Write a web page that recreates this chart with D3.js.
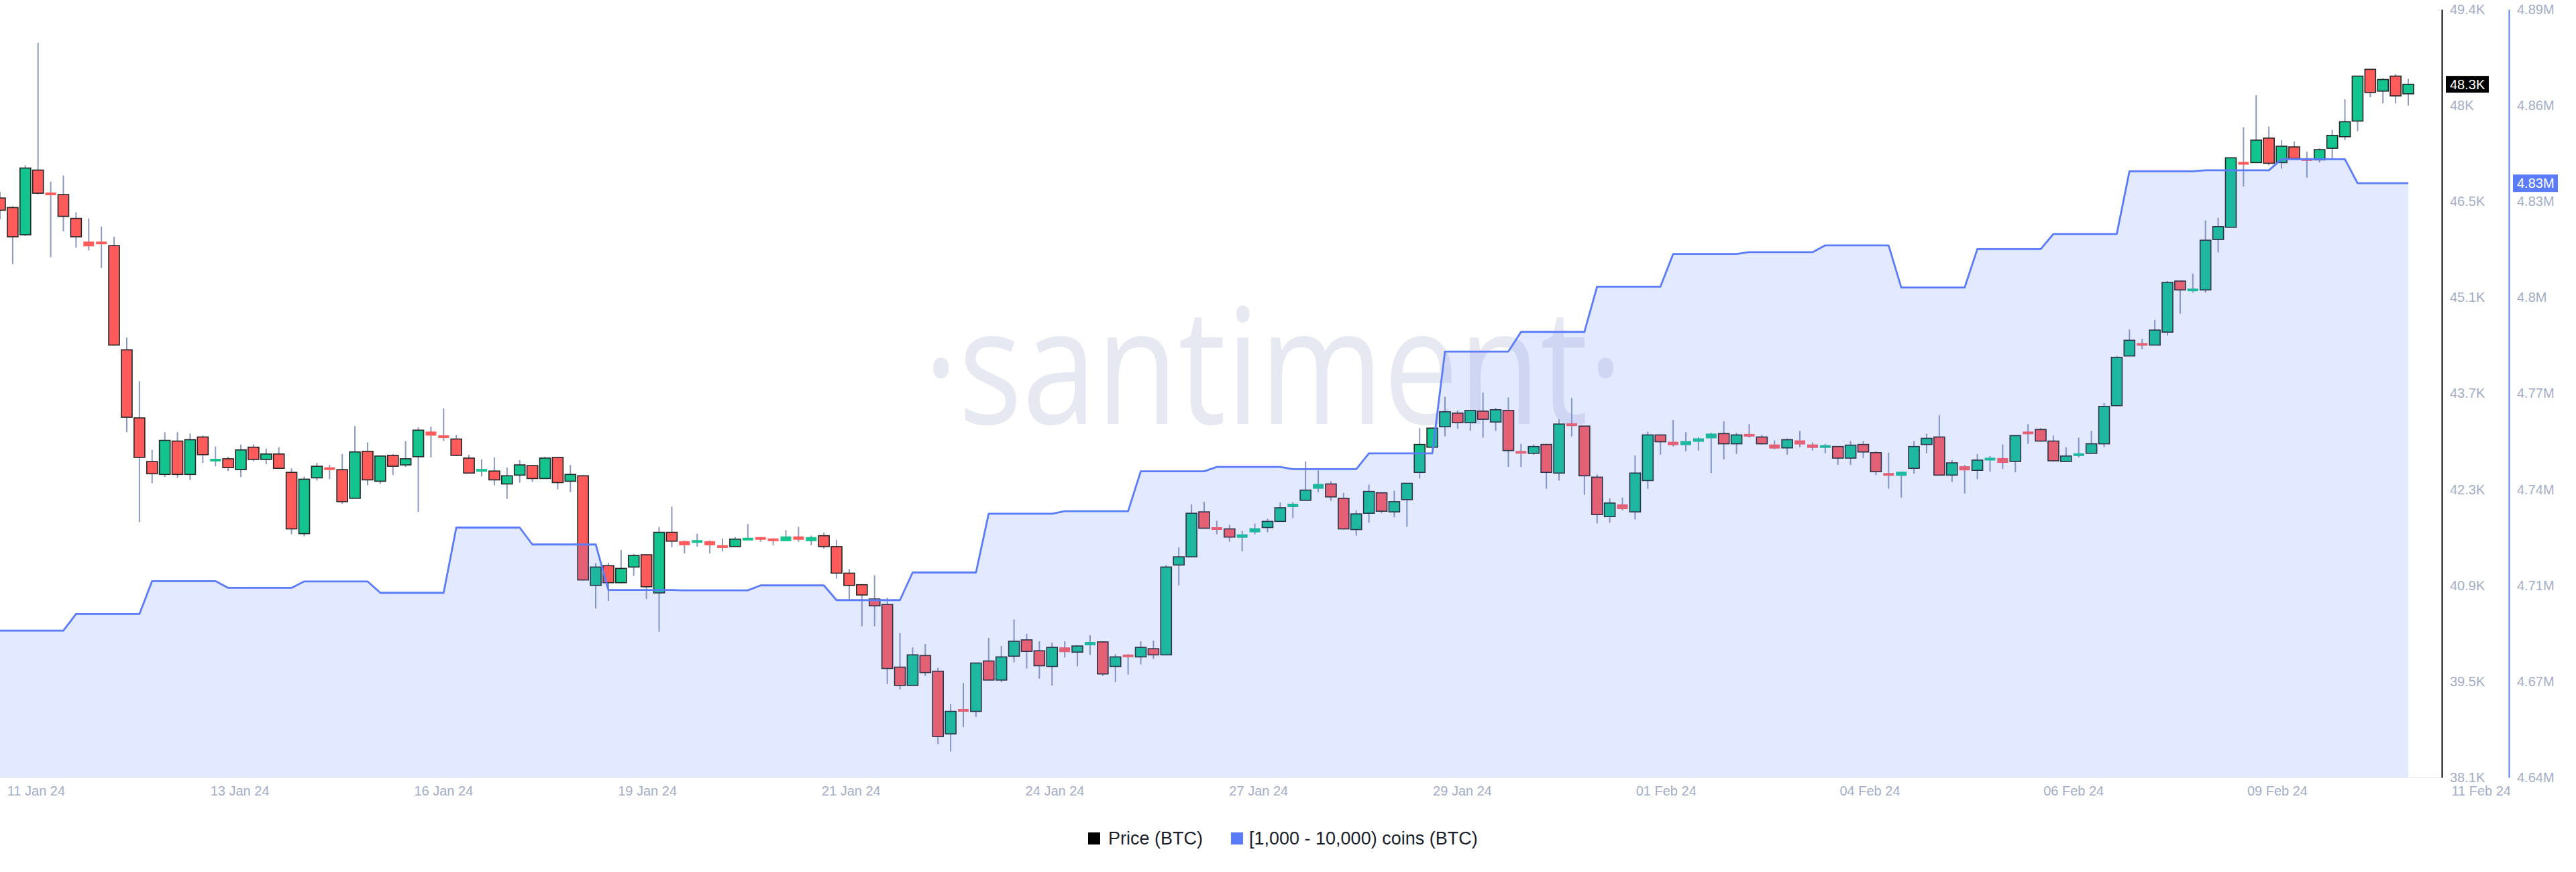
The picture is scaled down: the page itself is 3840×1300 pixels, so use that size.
<!DOCTYPE html>
<html><head><meta charset="utf-8">
<script src="https://cdn.jsdelivr.net/npm/d3@7"></script>
<style>html,body{margin:0;padding:0;background:#fff;}svg{display:block;}</style>
</head><body>
<script>
// ---- DATA ----
// 4-hour BTC candles starting 11 Jan 2024 00:00 UTC
const candleStart = Date.UTC(2024, 0, 11, 0);
const candleHours = 4;
const open = [
46590,46450,46050,47000,46660,46640,46290,45950,45940,45890,
44360,43360,42720,42530,43020,42530,43080,42730,42760,42600,
42930,42750,42830,42560,41660,42480,42630,42600,42180,42870,
42430,42810,42670,42790,43160,43090,43050,42770,42570,42580,
42390,42520,42660,42470,42780,42430,42510,40900,41190,40940,
41170,41350,40790,41680,41550,41530,41550,41480,41470,41570,
41600,41580,41550,41620,41550,41630,41470,41080,40910,40700,
40620,39700,39430,39870,39640,38720,39080,39050,39790,39510,
39860,40100,39940,39710,39990,39920,40020,40070,39710,39880,
39850,39970,39880,41200,41320,41980,41740,41730,41600,41680,
41750,41840,42050,42150,42320,42390,42180,41720,41960,42260,
41980,42160,42560,42930,43230,43430,43290,43460,43300,43470,
42870,42840,42970,42550,43280,43240,42490,41910,42090,41980,
42440,43110,43010,42960,43010,43060,43130,42980,43110,43080,
42970,42920,43030,42970,42930,42940,42770,42970,42850,42550,
42510,42620,42970,43080,42520,42650,42590,42740,42770,42720,
43150,43190,43020,42720,42810,42840,42980,43540,44270,44450,
44430,44620,45370,45230,45240,45980,46160,47120,47110,47470,
47110,47340,47160,47150,47320,47490,47720,48480,48160,48380,
48120];
const high = [
46680,46470,47070,48870,46830,46920,46380,46290,46170,46020,
44540,43900,42890,43150,43150,43130,43100,42940,42790,42970,
42970,42910,42930,42620,42500,42700,42670,42830,43240,43000,
42810,42830,43020,43220,43230,43500,43110,42820,42750,42780,
42630,42740,42670,42790,42790,42670,42520,41230,41230,41420,
41360,41360,41760,42060,41560,41660,41560,41590,41610,41800,
41610,41590,41710,41760,41630,41680,41570,41140,40920,41050,
40720,40200,39990,40040,39690,39160,39470,39760,40130,40010,
40400,40190,40080,40060,40080,40020,40170,40080,39890,39890,
40080,40090,41200,41460,42090,42130,41850,41790,41700,41810,
41880,42120,42120,42720,42590,42430,42260,42000,42380,42260,
42290,42400,43210,43210,43670,43470,43480,43730,43510,43660,
42980,42970,42980,43340,43650,43240,42530,42180,42190,42810,
43160,43110,43330,43150,43080,43140,43310,43140,43270,43110,
43030,43060,43170,43000,42980,42940,43020,43020,42870,42850,
42570,43020,43130,43400,42740,42670,42830,42800,42970,43100,
43270,43210,43100,42930,43070,43170,43580,44270,44660,44520,
44800,45370,45370,45480,46260,46300,47180,47630,48100,47640,
47440,47420,47270,47320,47590,48040,48380,48480,48350,48410,
48340];
const low = [
46280,45620,46030,46640,45720,46100,45860,45820,45560,44420,
43150,41830,42400,42490,42480,42450,42700,42650,42580,42490,
42720,42680,42610,41650,41620,42440,42460,42100,42180,42370,
42390,42520,42640,41980,42780,43020,42800,42550,42500,42370,
42170,42410,42420,42470,42310,42270,40970,40560,40670,40930,
41040,40700,40220,41460,41370,41470,41370,41400,41470,41570,
41540,41490,41550,41540,41490,41440,41000,40700,40300,40300,
39450,39370,39430,39570,38570,38460,38820,38970,39510,39480,
39770,39680,39530,39430,39840,39710,39880,39570,39480,39590,
39740,39820,39880,40900,41320,41740,41650,41540,41400,41650,
41680,41840,41890,42150,42270,42140,41720,41630,41820,41960,
41900,41760,42470,42930,43090,43200,43170,43070,43170,42640,
42640,42820,42320,42440,43090,42230,41810,41820,42000,41870,
42320,42820,42940,42870,42880,42550,42750,42830,43070,42970,
42900,42820,42930,42880,42840,42670,42670,42770,42520,42320,
42190,42540,42840,42520,42420,42250,42460,42570,42610,42560,
42980,43010,42720,42710,42780,42840,42930,43540,44270,44370,
44430,44570,44890,45200,45200,45790,46160,46760,47110,47070,
47020,47170,46890,47110,47160,47440,47570,48070,47980,47980,
47950];
const close = [
46410,46020,47030,46660,46640,46320,46020,45880,45920,44430,
43370,42780,42540,43030,42530,43040,42820,42750,42630,42890,
42750,42830,42620,41730,42460,42650,42600,42130,42860,42450,
42800,42650,42760,43180,43100,43080,42810,42550,42610,42450,
42510,42670,42470,42770,42410,42530,40980,41170,40940,41150,
41340,40880,41680,41550,41490,41560,41490,41460,41580,41590,
41580,41560,41620,41570,41610,41470,41080,40900,40760,40600,
39680,39430,39880,39620,38680,39050,39050,39760,39510,39850,
40080,39930,39720,39990,39920,40010,40070,39600,39850,39850,
39990,39880,41170,41320,41960,41740,41730,41610,41650,41740,
41840,42040,42100,42300,42390,42200,41730,41950,42280,41990,
42130,42400,42970,43210,43450,43290,43470,43340,43480,42880,
42840,42940,42560,43270,43240,42510,41940,42110,42020,42550,
43110,43010,42960,43020,43060,43130,42980,43110,43100,42980,
42910,43040,42970,42920,42950,42770,42960,42860,42570,42510,
42570,42940,43060,42520,42700,42590,42740,42770,42700,43100,
43130,43020,42730,42800,42830,42980,43530,44250,44500,44430,
44650,45350,45240,45250,45970,46170,47180,47080,47440,47100,
47350,47170,47150,47300,47510,47710,48380,48140,48330,48090,
48260];
// Daily balance of [1,000 - 10,000) BTC holders, 11 Jan .. 11 Feb 2024
const holderStart = Date.UTC(2024, 0, 11, 0);
const holders = [
4690700,4696100,4706800,4704600,4706700,4703000,4724200,4718700,4703900,4703800,
4705400,4700600,4709600,4728700,4729500,4742500,4743900,4743200,4748300,4781400,
4787800,4802500,4813100,4813700,4815900,4802200,4814700,4819600,4840000,4840300,
4843900,4836100];
const priceTickLabels = ["38.1K","39.5K","40.9K","42.3K","43.7K","45.1K","46.5K","48K","49.4K"];
const holderTickLabels = ["4.64M","4.67M","4.71M","4.74M","4.77M","4.8M","4.83M","4.86M","4.89M"];
const dateTickLabels = ["11 Jan 24","13 Jan 24","16 Jan 24","19 Jan 24","21 Jan 24","24 Jan 24","27 Jan 24","29 Jan 24","01 Feb 24","04 Feb 24","06 Feb 24","09 Feb 24","11 Feb 24"];
const priceDomain = [38080, 49360];
const holderDomain = [4643000, 4892600];

// ---- LAYOUT ----
const W = 3840, Hh = 1300;
const plotLeft = 0, plotRight = 3590, plotTop = 14, plotBottom = 1159;
const priceAxisX = 3640, holderAxisX = 3740;
const HOUR = 3600e3;
const FONT = "'Liberation Sans', Arial, Helvetica, sans-serif";
const GREEN = "#13c48f", RED = "#ff5b5b", BLUE = "#5b7cfa", WICK = "#8d99c0", AXISTXT = "#a3adc6";

const candles = open.map((o, i) => ({
  t: new Date(candleStart + i * candleHours * HOUR), o, h: high[i], l: low[i], c: close[i]
}));
const tEnd = candles[candles.length - 1].t;

const x = d3.scaleUtc().domain([new Date(candleStart), tEnd]).range([plotLeft, plotRight]);
const yP = d3.scaleLinear().domain(priceDomain).range([plotBottom, plotTop]);
const yH = d3.scaleLinear().domain(holderDomain).range([plotBottom, plotTop]);

const svg = d3.select("body").append("svg").attr("width", W).attr("height", Hh)
  .style("font-family", FONT);
svg.append("rect").attr("width", W).attr("height", Hh).attr("fill", "#fff");

// watermark
svg.append("text").attr("x", 1898).attr("y", 632).attr("text-anchor", "middle")
  .attr("font-family", "'Open Sans', 'Noto Sans', sans-serif").attr("font-weight", 400)
  .attr("font-size", 240).attr("fill", "#e6e9f2")
  .attr("transform", "translate(1898,0) scale(0.83,1) translate(-1898,0)")
  .text("\u00B7santiment\u00B7");

// bottom baseline
svg.append("line").attr("x1", 0).attr("x2", priceAxisX).attr("y1", plotBottom + 0.5).attr("y2", plotBottom + 0.5)
  .attr("stroke", "#e6e9f2").attr("stroke-width", 1);

// candles
const bodyW = 16;
const cg = svg.append("g");
cg.selectAll("line.wick").data(candles).join("line").attr("class", "wick")
  .attr("x1", d => x(d.t)).attr("x2", d => x(d.t))
  .attr("y1", d => yP(d.h)).attr("y2", d => yP(d.l))
  .attr("stroke", WICK).attr("stroke-width", 2);
cg.selectAll("rect.body").data(candles).join("rect").attr("class", "body")
  .each(function(d) {
    const yTop = yP(Math.max(d.o, d.c)), yBot = yP(Math.min(d.o, d.c));
    let hgt = yBot - yTop, y0 = yTop;
    const small = hgt < 8;
    if (hgt < 4) { y0 = (yTop + yBot) / 2 - 2; hgt = 4; }
    d3.select(this).attr("x", x(d.t) - bodyW / 2).attr("width", bodyW)
      .attr("y", y0).attr("height", hgt)
      .attr("fill", d.c >= d.o ? GREEN : RED)
      .attr("stroke", small ? "none" : "#262626").attr("stroke-width", 1.6);
  });

// holders area + line
const pts = [];
holders.forEach((v, k) => {
  const s = holderStart + k * 24 * HOUR;
  pts.push({ t: new Date(s), v });
  pts.push({ t: new Date(Math.min(s + 20 * HOUR, +tEnd)), v });
});
svg.append("path").datum(pts)
  .attr("d", d3.area().x(d => x(d.t)).y0(plotBottom).y1(d => yH(d.v)))
  .attr("fill", BLUE).attr("fill-opacity", 0.17);
svg.append("path").datum(pts)
  .attr("d", d3.line().x(d => x(d.t)).y(d => yH(d.v)))
  .attr("fill", "none").attr("stroke", BLUE).attr("stroke-width", 2.8).attr("stroke-linejoin", "round");

// axes
const priceTicks = d3.range(priceTickLabels.length).map(k => priceDomain[0] + k * (priceDomain[1] - priceDomain[0]) / (priceTickLabels.length - 1));
const holderTicks = d3.range(holderTickLabels.length).map(k => holderDomain[0] + k * (holderDomain[1] - holderDomain[0]) / (holderTickLabels.length - 1));

const axP = svg.append("g").attr("transform", `translate(${priceAxisX},0)`)
  .call(d3.axisRight(yP).tickValues(priceTicks).tickFormat((d, i) => priceTickLabels[i]).tickSize(0).tickSizeOuter(0).tickPadding(12));
axP.select(".domain").attr("stroke", "#000").attr("stroke-width", 2);
const axH = svg.append("g").attr("transform", `translate(${holderAxisX},0)`)
  .call(d3.axisRight(yH).tickValues(holderTicks).tickFormat((d, i) => holderTickLabels[i]).tickSize(0).tickSizeOuter(0).tickPadding(12));
axH.select(".domain").attr("stroke", BLUE).attr("stroke-width", 2);

const dateTicks = dateTickLabels.map((_, k) => new Date(candleStart + (11.3 + 64.3 * k) * HOUR));
const axX = svg.append("g").attr("transform", `translate(0,${plotBottom})`)
  .call(d3.axisBottom(x).tickValues(dateTicks).tickFormat((d, i) => dateTickLabels[i]).tickSize(0).tickPadding(13));
axX.select(".domain").remove();

svg.selectAll(".tick text").attr("fill", AXISTXT).attr("font-size", 20).attr("font-family", FONT);

// last value labels
const last = candles[candles.length - 1];
const pY = yP(last.c);
svg.append("rect").attr("x", priceAxisX + 6).attr("y", pY - 12.5).attr("width", 64).attr("height", 25).attr("fill", "#000");
svg.append("text").attr("x", priceAxisX + 12).attr("y", pY).attr("dy", "0.35em")
  .attr("fill", "#fff").attr("font-size", 20).text(d3.format(".3~s")(last.c).replace("k", "K"));
const lastH = holders[holders.length - 1];
const hY = yH(lastH);
svg.append("rect").attr("x", holderAxisX + 6).attr("y", hY - 13).attr("width", 67).attr("height", 26).attr("fill", BLUE);
svg.append("text").attr("x", holderAxisX + 12).attr("y", hY).attr("dy", "0.35em")
  .attr("fill", "#fff").attr("font-size", 20).text((Math.floor(lastH / 1e4) / 100).toFixed(2) + "M");

// legend
const lg = svg.append("g").attr("font-size", 27).attr("fill", "#1b1e2c");
lg.append("rect").attr("x", 1622).attr("y", 1241).attr("width", 18).attr("height", 18).attr("fill", "#000");
lg.append("text").attr("x", 1652).attr("y", 1259).text("Price (BTC)");
lg.append("rect").attr("x", 1835).attr("y", 1241).attr("width", 18).attr("height", 18).attr("fill", BLUE);
lg.append("text").attr("x", 1862).attr("y", 1259).text("[1,000 - 10,000) coins (BTC)");
</script>
</body></html>
